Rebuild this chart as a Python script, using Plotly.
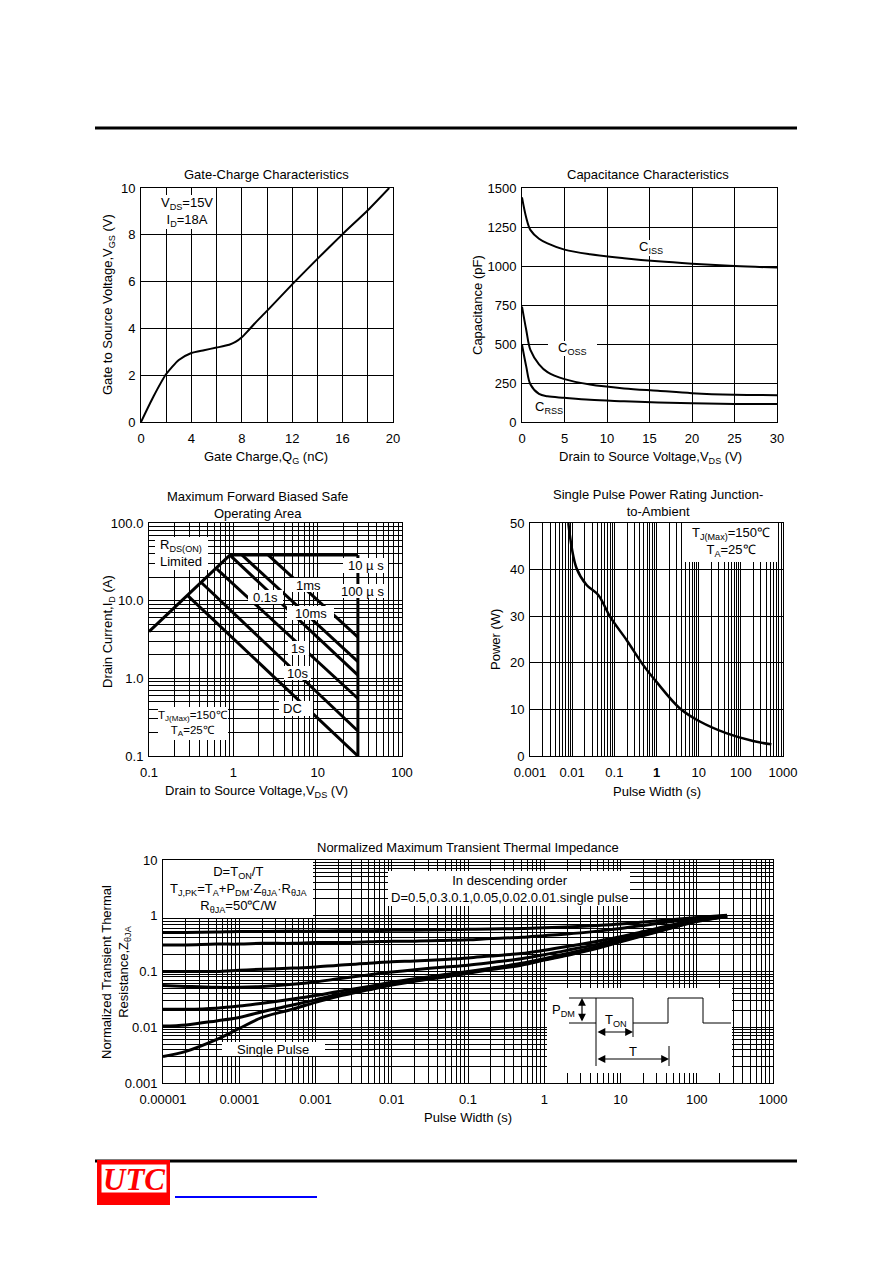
import plotly.graph_objects as go

W, H = 892, 1263
FONT = "Liberation Sans, Arial, sans-serif"
FS = 13

# ---- Gate-charge characteristics
qg = [0, 1, 2, 3, 4, 5, 6, 7, 7.5, 8, 8.5, 9, 10, 12, 14, 16, 18, 19.7]
vgs = [0, 1.1, 2.05, 2.65, 2.95, 3.07, 3.18, 3.3, 3.42, 3.62, 3.9, 4.2, 4.75, 5.88, 6.97, 8.03, 9.05, 10.0]
gate_xticks = [0, 2, 4, 6, 8, 10, 12, 14, 16, 18, 20]
gate_xlabels = ["0", "", "4", "", "8", "", "12", "", "16", "", "20"]
gate_yticks = [0, 2, 4, 6, 8, 10]

# ---- Capacitance characteristics
vds_cap = [0, 0.5, 1, 2, 3, 5, 8, 12, 16, 20, 25, 30]
ciss = [1440, 1310, 1230, 1175, 1145, 1105, 1075, 1050, 1030, 1015, 1000, 990]
coss = [740, 590, 460, 370, 320, 275, 240, 215, 200, 185, 175, 172]
crss = [495, 355, 240, 180, 165, 155, 142, 133, 125, 120, 116, 115]

# ---- Safe operating area (V, A)
soa_rds_v = [0.1, 0.91]
soa_rds_i = [4.0, 38.6]
soa_top_v = [0.91, 30]
soa_top_i = [38.6, 38.6]
soa_vmax_v = [30, 30]
soa_vmax_i = [38.6, 0.1]
soa_1ms_v, soa_1ms_i = [2.6, 30], [38.6, 3.4]
soa_10ms_v, soa_10ms_i = [1.27, 30], [38.6, 1.64]
soa_01s_v, soa_01s_i = [0.91, 30], [38.6, 1.1]
soa_1s_v, soa_1s_i = [0.64, 30], [25.5, 0.55]
soa_10s_v, soa_10s_i = [0.42, 30], [17.0, 0.21]
soa_dc_v, soa_dc_i = [0.29, 30], [11.5, 0.1]
soa_x_labels = ["0.1", "1", "10", "100"]
soa_y_labels = ["0.1", "1.0", "10.0", "100.0"]

# ---- Single pulse power rating
pw_t = [0.0081, 0.0127, 0.022, 0.042, 0.079, 0.195, 0.485, 1.0, 3.6, 10.7, 45, 195, 530]
pw_p = [50, 40.3, 36.7, 34.5, 29.9, 24.9, 19.5, 15.9, 10.2, 7.4, 4.9, 3.2, 2.5]
pw_x_labels = ["0.001", "0.01", "0.1", "<b>1</b>", "10", "100", "1000"]

# ---- Transient thermal impedance
th_t = [1e-5, 2e-5, 5e-5, 1e-4, 2e-4, 5e-4, 1e-3, 2e-3, 5e-3, 1e-2, 2e-2, 5e-2,
        0.1, 0.2, 0.5, 1, 2, 5, 10, 20, 50, 100, 250]
th_d05 = [0.50, 0.50, 0.51, 0.52, 0.52, 0.53, 0.53, 0.54, 0.54, 0.55, 0.55, 0.56,
          0.57, 0.58, 0.59, 0.61, 0.63, 0.67, 0.71, 0.77, 0.86, 0.93, 1.02]
th_d03 = [0.30, 0.30, 0.31, 0.31, 0.32, 0.32, 0.33, 0.33, 0.34, 0.35, 0.35, 0.36,
          0.37, 0.39, 0.41, 0.44, 0.47, 0.53, 0.59, 0.67, 0.80, 0.90, 1.0]
th_d01 = [0.10, 0.10, 0.10, 0.105, 0.11, 0.115, 0.12, 0.13, 0.14, 0.15, 0.155, 0.165,
          0.175, 0.19, 0.21, 0.24, 0.28, 0.35, 0.42, 0.52, 0.70, 0.85, 1.0]
th_d005 = [0.056, 0.054, 0.052, 0.052, 0.054, 0.059, 0.065, 0.074, 0.087, 0.098, 0.108, 0.12,
           0.13, 0.145, 0.17, 0.2, 0.24, 0.31, 0.39, 0.49, 0.67, 0.83, 0.99]
th_d002 = [0.021, 0.021, 0.022, 0.024, 0.027, 0.032, 0.037, 0.044, 0.054, 0.064, 0.074, 0.088,
           0.1, 0.115, 0.14, 0.17, 0.21, 0.28, 0.36, 0.46, 0.64, 0.81, 0.98]
th_d001 = [0.0105, 0.011, 0.013, 0.015, 0.019, 0.025, 0.031, 0.039, 0.05, 0.06, 0.07, 0.085,
           0.097, 0.112, 0.135, 0.165, 0.2, 0.27, 0.35, 0.45, 0.63, 0.8, 0.97]
th_single = [0.003, 0.0037, 0.006, 0.0095, 0.015, 0.021, 0.028, 0.036, 0.047, 0.057, 0.067, 0.08,
             0.093, 0.108, 0.13, 0.16, 0.195, 0.26, 0.34, 0.44, 0.62, 0.79, 0.96]
th_x_labels = ["0.00001", "0.0001", "0.001", "0.01", "0.1", "1", "10", "100", "1000"]
th_y_labels = ["0.001", "0.01", "0.1", "1", "10"]


def px(x):
    return x / W


def py(y):
    return 1 - y / H


def log_grid(lo, hi, labels):
    vals, text = [], []
    for k, e in enumerate(range(lo, hi)):
        for m in range(1, 10):
            vals.append(m * 10.0 ** e)
            text.append(labels[k] if m == 1 else "")
    vals.append(10.0 ** hi)
    text.append(labels[-1])
    return vals, text


def axis(domain, horiz, **kw):
    d = dict(domain=domain, showline=True, mirror=True, linecolor="black", linewidth=1,
             showgrid=True, gridcolor="black", gridwidth=1, zeroline=False, ticks="",
             automargin=False, ticklabelstandoff=4 if horiz else 2,
             tickfont=dict(size=FS, color="black", family=FONT))
    d.update(kw)
    return d


fig = go.Figure()

fig.add_trace(go.Scatter(x=qg, y=vgs, mode="lines", line=dict(color="black", width=2, shape="spline", smoothing=0.6),
                         xaxis="x", yaxis="y"))

for c in (ciss, coss, crss):
    fig.add_trace(go.Scatter(x=vds_cap, y=c, mode="lines", line=dict(color="black", width=2, shape="spline"),
                             xaxis="x2", yaxis="y2"))

for v, i in [(soa_rds_v, soa_rds_i), (soa_top_v, soa_top_i), (soa_vmax_v, soa_vmax_i),
             (soa_1ms_v, soa_1ms_i), (soa_10ms_v, soa_10ms_i), (soa_01s_v, soa_01s_i),
             (soa_1s_v, soa_1s_i), (soa_10s_v, soa_10s_i), (soa_dc_v, soa_dc_i)]:
    fig.add_trace(go.Scatter(x=v, y=i, mode="lines", line=dict(color="black", width=3),
                             xaxis="x3", yaxis="y3"))

fig.add_trace(go.Scatter(x=pw_t, y=pw_p, mode="lines", line=dict(color="black", width=2.5, shape="spline"),
                         xaxis="x4", yaxis="y4"))

for z in (th_d05, th_d03, th_d01, th_d005, th_d002, th_d001, th_single):
    fig.add_trace(go.Scatter(x=th_t, y=z, mode="lines", line=dict(color="black", width=3, shape="spline"),
                             xaxis="x5", yaxis="y5"))

soa_xv, soa_xt = log_grid(-1, 2, soa_x_labels)
soa_yv, soa_yt = log_grid(-1, 2, soa_y_labels)
pw_xv, pw_xt = log_grid(-3, 3, pw_x_labels)
th_xv, th_xt = log_grid(-5, 3, th_x_labels)
th_yv, th_yt = log_grid(-3, 1, th_y_labels)

fig.update_layout(
    width=W, height=H, margin=dict(l=0, r=0, t=0, b=0, pad=0, autoexpand=False), autosize=False,
    paper_bgcolor="white", plot_bgcolor="white", showlegend=False,
    font=dict(family=FONT, size=FS, color="black"),
    xaxis=axis([px(141), px(393)], True, anchor="y", range=[0, 20], tickmode="array",
               tickvals=gate_xticks, ticktext=gate_xlabels),
    yaxis=axis([py(422), py(188)], False, anchor="x", range=[0, 10], tickmode="array",
               tickvals=gate_yticks),
    xaxis2=axis([px(522), px(777)], True, anchor="y2", range=[0, 30], dtick=5),
    yaxis2=axis([py(422), py(188)], False, anchor="x2", range=[0, 1500], dtick=250),
    xaxis3=axis([px(149), px(402)], True, anchor="y3", type="log", range=[-1, 2], tickmode="array",
                tickvals=soa_xv, ticktext=soa_xt),
    yaxis3=axis([py(756), py(523)], False, anchor="x3", type="log", range=[-1, 2], tickmode="array",
                tickvals=soa_yv, ticktext=soa_yt),
    xaxis4=axis([px(530), px(783)], True, anchor="y4", type="log", range=[-3, 3], tickmode="array",
                tickvals=pw_xv, ticktext=pw_xt),
    yaxis4=axis([py(756), py(523)], False, anchor="x4", range=[0, 50], dtick=10),
    xaxis5=axis([px(163), px(773)], True, anchor="y5", type="log", range=[-5, 3], tickmode="array",
                tickvals=th_xv, ticktext=th_xt),
    yaxis5=axis([py(1083), py(860)], False, anchor="x5", type="log", range=[-3, 1], tickmode="array",
                tickvals=th_yv, ticktext=th_yt),
)

shapes = []
anns = []


def hline(x0, x1, y, w=1, color="black"):
    shapes.append(dict(type="line", xref="paper", yref="paper", x0=px(x0), x1=px(x1),
                       y0=py(y), y1=py(y), line=dict(color=color, width=w), layer="above"))


def vline(x, y0, y1, w=1):
    shapes.append(dict(type="line", xref="paper", yref="paper", x0=px(x), x1=px(x),
                       y0=py(y0), y1=py(y1), line=dict(color="black", width=w), layer="above"))


def box(x0, y0, x1, y1, fill="white", lc=None, lw=0):
    shapes.append(dict(type="rect", xref="paper", yref="paper", x0=px(x0), x1=px(x1),
                       y0=py(y1), y1=py(y0), fillcolor=fill,
                       line=dict(color=lc or fill, width=lw), layer="above"))


def text(x, y, t, size=FS, angle=0, xanchor="center", **kw):
    a = dict(xref="paper", yref="paper", x=px(x), y=py(y), text=t, showarrow=False,
             xanchor=xanchor, yanchor="middle", textangle=angle,
             font=dict(size=size, color="black", family=FONT))
    a.update(kw)
    anns.append(a)


# page rules and footer logo
hline(95, 797, 128, 3)
hline(95, 797, 1161, 3)
box(97, 1160, 170, 1205, fill="#ff0000")
box(101, 1164, 167, 1193, fill="white", lc="#ff0000", lw=1)
hline(175, 317, 1197, 2, "#0000ff")
anns.append(dict(xref="paper", yref="paper", x=px(134), y=py(1179), text="<b><i>UTC</i></b>",
                 showarrow=False, xanchor="center", yanchor="middle",
                 font=dict(size=31, color="#ff0000", family="Liberation Serif, Times New Roman, serif")))

# gate charge
text(266, 174, "Gate-Charge Characteristics")
text(266, 457, "Gate Charge,Q<sub>G</sub> (nC)")
text(108, 305, "Gate to Source Voltage,V<sub>GS</sub> (V)", angle=-90)
box(162, 195, 212, 229)
text(187, 212, "V<sub>DS</sub>=15V<br>I<sub>D</sub>=18A")

# capacitance
text(648, 174, "Capacitance Characteristics")
text(650, 457, "Drain to Source Voltage,V<sub>DS</sub> (V)")
text(477, 305, "Capacitance (pF)", angle=-90)
box(638, 240, 665, 256)
text(651, 247, "C<sub>ISS</sub>")
box(548, 341, 597, 356)
text(572, 348, "C<sub>OSS</sub>")
box(535, 400, 564, 415)
text(549, 407, "C<sub>RSS</sub>")

# SOA
text(257, 505, "Maximum Forward Biased Safe<br>Operating Area")
text(256, 791, "Drain to Source Voltage,V<sub>DS</sub> (V)")
text(108, 632, "Drain Current,I<sub>D</sub> (A)", angle=-90)
box(155, 537, 208, 570)
text(181, 553, "R<sub>DS(ON)</sub><br>Limited")
for x0, y0, x1, y1, tx, ty, t in [
    (343, 558, 388, 573, 366, 565, "10 µ s"),
    (338, 584, 388, 598, 362, 591, "100 µ s"),
    (287, 578, 332, 592, 308, 585, "1ms"),
    (248, 590, 283, 604, 265, 597, "0.1s"),
    (287, 606, 334, 620, 311, 613, "10ms"),
    (288, 641, 309, 655, 298, 648, "1s"),
    (284, 666, 311, 680, 297, 673, "10s"),
    (279, 701, 313, 716, 292, 708, "DC"),
]:
    box(x0, y0, x1, y1)
    text(tx, ty, t)
box(158, 707, 228, 740)
text(193, 723, "T<sub>J(Max)</sub>=150℃<br>T<sub>A</sub>=25℃", size=11.5)

# power rating
text(658, 503, "Single Pulse Power Rating Junction-<br>to-Ambient")
text(657, 791, "Pulse Width (s)")
text(496, 640, "Power (W)", angle=-90)
box(683, 523, 777, 562)
text(731, 542, "T<sub>J(Max)</sub>=150℃<br>T<sub>A</sub>=25℃")

# transient thermal impedance
text(468, 847, "Normalized Maximum Transient Thermal Impedance")
text(468, 1117, "Pulse Width (s)")
text(116, 972, "Normalized Transient Thermal<br>Resistance,Z<sub>θJA</sub>", angle=-90)
box(163, 860, 313, 918)
text(238, 889, "D=T<sub>ON</sub>/T<br>T<sub>J,PK</sub>=T<sub>A</sub>+P<sub>DM</sub>·Z<sub>θJA</sub>·R<sub>θJA</sub><br>R<sub>θJA</sub>=50℃/W")
box(388, 871, 630, 906)
text(509, 889, "In descending order<br>D=0.5,0.3.0.1,0.05,0.02.0.01.single pulse")
box(222, 1042, 325, 1056)
text(273, 1049, "Single Pulse")

# inset pulse diagram
box(547, 988, 732, 1073)
hline(569, 633, 998)
hline(569, 596, 1023)
vline(596, 998, 1066)
vline(633, 998, 1037)
hline(633, 668, 1023)
vline(668, 998, 1023)
hline(668, 703, 998)
vline(703, 998, 1023)
hline(703, 731, 1023)
vline(669, 1046, 1066)
for x, y, ax, ay in [(582, 998, 0, 25), (633, 1032, -37, 0), (669, 1059, -73, 0)]:
    anns.append(dict(xref="paper", yref="paper", x=px(x), y=py(y), ax=ax, ay=ay, axref="pixel",
                     ayref="pixel", text="", showarrow=True, arrowhead=2, arrowside="end+start",
                     arrowsize=1.3, arrowwidth=1.2, arrowcolor="black", standoff=0, startstandoff=0))
text(577, 1010, "P<sub>DM</sub>", xanchor="right")
text(616, 1021, "T<sub>ON</sub>")
text(633, 1051, "T")

fig.update_layout(shapes=shapes, annotations=anns)

fig.write_html("out.html", config={"displayModeBar": False, "responsive": False},
               post_script="document.body.style.margin='0';document.body.style.overflow='hidden';")
